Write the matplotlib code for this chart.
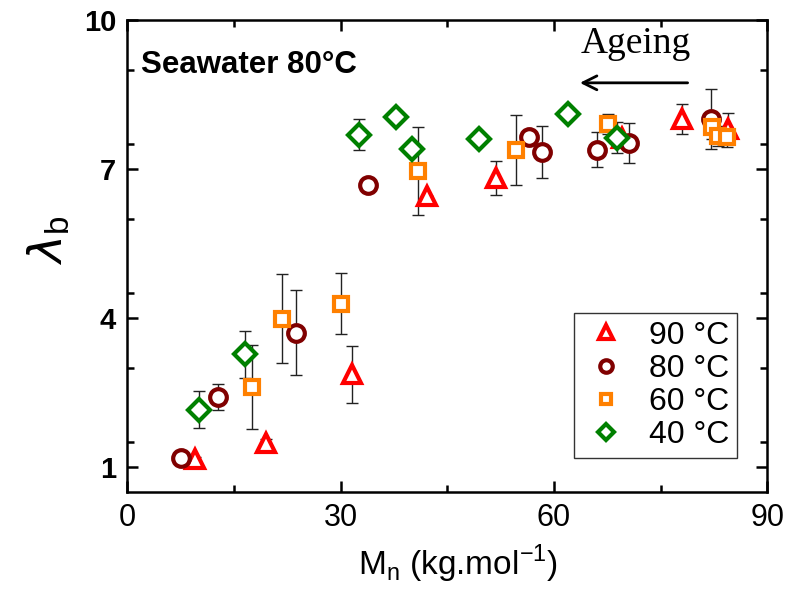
import matplotlib
matplotlib.use('Agg')
import matplotlib.pyplot as plt
from matplotlib.ticker import MultipleLocator

plt.rcParams['font.family'] = ['Liberation Sans', 'DejaVu Sans']

# 90 °C
mn_90 = [9.6, 19.5, 31.6, 42.2, 51.9, 69.6, 78.0, 84.5]
lam_90 = [1.16, 1.48, 2.87, 6.46, 6.82, 7.63, 8.01, 7.81]
err_90 = [0.05, 0.08, 0.57, 0.0, 0.34, 0.0, 0.30, 0.31]

# 80 °C
mn_80 = [7.6, 12.8, 23.8, 33.9, 56.5, 58.4, 66.1, 70.6, 82.1]
lam_80 = [1.18, 2.41, 3.71, 6.68, 7.65, 7.35, 7.39, 7.53, 8.01]
err_80 = [0.0, 0.26, 0.86, 0.0, 0.0, 0.52, 0.35, 0.40, 0.60]

# 60 °C
mn_60 = [17.6, 21.7, 30.1, 40.9, 54.7, 67.6, 82.2, 83.1, 84.4]
lam_60 = [2.61, 3.99, 4.29, 6.96, 7.38, 7.91, 7.85, 7.67, 7.65]
err_60 = [0.84, 0.90, 0.61, 0.88, 0.70, 0.20, 0.25, 0.20, 0.20]

# 40 °C
mn_40 = [10.1, 16.5, 32.6, 37.8, 40.1, 49.5, 62.0, 68.9]
lam_40 = [2.16, 3.27, 7.69, 8.05, 7.40, 7.61, 8.11, 7.63]
err_40 = [0.38, 0.47, 0.31, 0.0, 0.0, 0.0, 0.0, 0.31]

series = [
    ('90 °C', mn_90, lam_90, err_90, '^', '#ff0000', 13),
    ('80 °C', mn_80, lam_80, err_80, 'o', '#800000', 12),
    ('60 °C', mn_60, lam_60, err_60, 's', '#ff8000', 10.5),
    ('40 °C', mn_40, lam_40, err_40, 'D', '#008000', 11.5),
]

fig = plt.figure(figsize=(8, 5.9), dpi=100)
ax = fig.add_axes([0.159, 0.166, 0.8, 0.8])

for label, x, y, e, m, c, ms in series:
    ax.errorbar(x, y, yerr=e, fmt='none', ecolor='#222222', elinewidth=1.0,
                capsize=4, capthick=1.0, zorder=2)
    ax.plot(x, y, linestyle='none', marker=m, markersize=ms, markerfacecolor='white',
            markeredgecolor=c, markeredgewidth=3, label=label, zorder=3)

ax.set_xlim(0, 90)
ax.set_ylim(0.5, 10)
ax.xaxis.set_major_locator(MultipleLocator(30))
ax.xaxis.set_minor_locator(MultipleLocator(15))
ax.set_yticks([1, 4, 7, 10])
ax.yaxis.set_minor_locator(MultipleLocator(1.5))

ax.tick_params(which='both', direction='in', top=True, right=True, width=1.8)
ax.tick_params(which='major', length=8)
ax.tick_params(which='minor', length=5)
ax.tick_params(axis='x', labelsize=22, pad=8)
ax.tick_params(axis='y', labelsize=21, pad=8)
for t in ax.get_yticklabels():
    t.set_fontweight('bold')
for s in ax.spines.values():
    s.set_linewidth(1.8)

ax.set_xlabel(r'M$_\mathregular{n}$ (kg.mol$^\mathregular{-1}$)', fontsize=24)
ax.xaxis.set_label_coords(0.516, -0.108)
ax.set_ylabel(r'$\lambda$$_\mathregular{b}$', fontsize=34)
ax.yaxis.set_label_coords(-0.086, 0.534)

ax.text(0.022, 0.905, 'Seawater 80°C', transform=ax.transAxes, fontsize=22.5,
        fontweight='bold', va='center', ha='left')
ax.text(0.88, 0.95, 'Ageing', transform=ax.transAxes, fontsize=27,
        family=['Liberation Serif', 'DejaVu Serif'], va='center', ha='right')
ax.annotate('', xy=(0.703, 0.867), xytext=(0.88, 0.867), xycoords='axes fraction',
            arrowprops=dict(arrowstyle='->', color='black', lw=2, mutation_scale=25))

leg = ax.legend(loc='lower right', bbox_to_anchor=(0.953, 0.072), fontsize=23,
                frameon=True, fancybox=False, edgecolor='black', handletextpad=0.6,
                labelspacing=0.1, borderpad=0.25, borderaxespad=0, handlelength=1.5,
                markerscale=0.75)
leg.get_frame().set_linewidth(1.0)

fig.savefig('out.png', dpi=100)
